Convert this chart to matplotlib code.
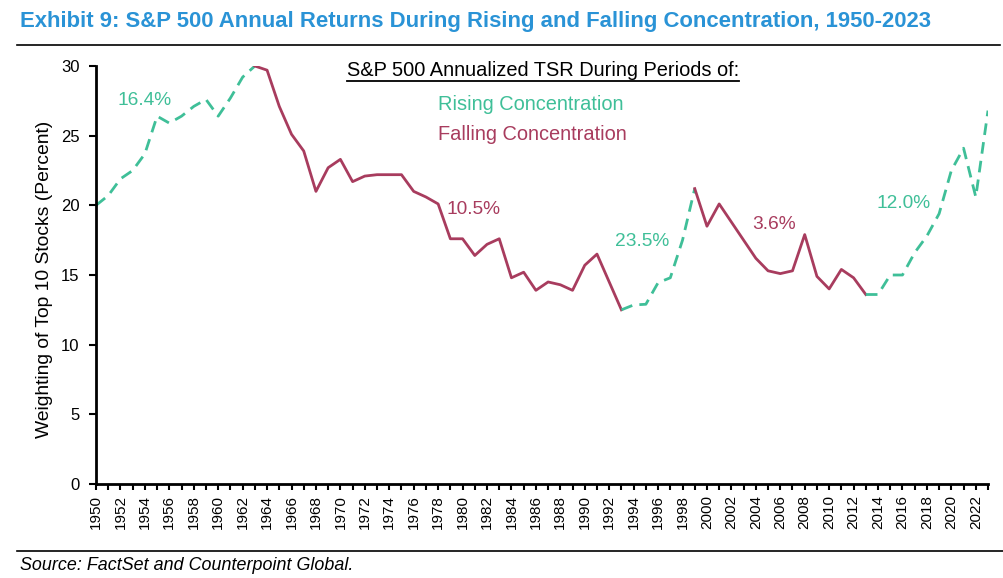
import matplotlib
matplotlib.use("Agg")
import matplotlib.pyplot as plt
from matplotlib.lines import Line2D
import numpy as np

plt.rcParams['font.family'] = ['Liberation Sans', 'DejaVu Sans']

years = list(range(1950, 2024))
weights = [
    20.0, 20.7, 21.9, 22.5, 23.7, 26.4, 25.9, 26.4, 27.1, 27.6,   # 1950-1959
    26.4, 27.7, 29.2, 30.0, 29.7, 27.1, 25.1, 23.9, 21.0, 22.7,   # 1960-1969
    23.3, 21.7, 22.1, 22.2, 22.2, 22.2, 21.0, 20.6, 20.1, 17.6,   # 1970-1979
    17.6, 16.4, 17.2, 17.6, 14.8, 15.2, 13.9, 14.5, 14.3, 13.9,   # 1980-1989
    15.7, 16.5, 14.5, 12.5, 12.85, 12.9, 14.45, 14.8, 17.5, 21.2, # 1990-1999
    18.5, 20.1, 18.8, 17.5, 16.2, 15.3, 15.1, 15.3, 17.9, 14.9,   # 2000-2009
    14.0, 15.4, 14.8, 13.6, 13.6, 15.0, 15.0, 16.6, 17.8, 19.4,   # 2010-2019
    22.5, 24.1, 20.6, 26.8,                                       # 2020-2023
]
# periods: (start year, end year, kind, annualized TSR label)
periods = [
    (1950, 1963, "rising", "16.4%"),
    (1963, 1993, "falling", "10.5%"),
    (1993, 1999, "rising", "23.5%"),
    (1999, 2013, "falling", "3.6%"),
    (2013, 2023, "rising", "12.0%"),
]
label_pos = [(1954.0, 27.5), (1980.9, 19.7), (1994.7, 17.4), (2005.5, 18.6), (2016.1, 20.15)]

GREEN = "#3fbf98"
RED = "#a83c5e"
BLUE = "#2a93d6"

W, H = 1004, 578
fig = plt.figure(figsize=(W / 100, H / 100), dpi=100)
ax = fig.add_axes([96 / W, 1 - 484 / H, (988 - 96) / W, (484 - 66) / H])

yr = np.array(years)
wt = np.array(weights)
for (s, e, kind, lab), (lx, ly) in zip(periods, label_pos):
    m = (yr >= s) & (yr <= e)
    if kind == "rising":
        ax.plot(yr[m], wt[m], color=GREEN, lw=2.0, ls=(0, (4.2, 2.6)), dash_capstyle='butt')
        c = GREEN
    else:
        ax.plot(yr[m], wt[m], color=RED, lw=2.0)
        c = RED
    ax.text(lx, ly, lab, color=c, fontsize=13.8, ha='center', va='center')

ax.set_xlim(1950, 2023)
ax.set_ylim(0, 30)
ax.set_yticks(range(0, 31, 5))
ax.set_xticks(years)
ax.set_xticklabels([str(y) if (y - 1950) % 2 == 0 else "" for y in years], rotation=90)
for s in ['top', 'right']:
    ax.spines[s].set_visible(False)
for s in ['left', 'bottom']:
    ax.spines[s].set_linewidth(2.0)
ax.tick_params(axis='y', direction='out', length=5, width=1.5, labelsize=12, pad=7)
ax.tick_params(axis='x', direction='out', length=4, width=1.5, labelsize=11, pad=4)
ax.set_ylabel("Weighting of Top 10 Stocks (Percent)", fontsize=13.9)
ax.yaxis.set_label_coords((53 - 96) / (988 - 96), (484 - 279) / (484 - 66))

# Title and rules
fig.text(20 / W, 1 - 22 / H, "Exhibit 9: S&P 500 Annual Returns During Rising and Falling Concentration, 1950-2023",
         color=BLUE, fontsize=15.9, fontweight='bold', ha='left', va='center')
fig.add_artist(Line2D([17 / W, 1000 / W], [1 - 45 / H, 1 - 45 / H], color='black', lw=1.2))
fig.add_artist(Line2D([17 / W, 1004 / W], [1 - 551 / H, 1 - 551 / H], color='black', lw=1.2))
fig.text(20 / W, 1 - 565 / H, "Source: FactSet and Counterpoint Global.", fontsize=12.9, style='italic',
         ha='left', va='center')

# Legend-like text block
hdr = fig.text(543 / W, 1 - 70 / H, "S&P 500 Annualized TSR During Periods of:", fontsize=14.4,
               ha='center', va='center')
fig.text(438 / W, 1 - 105 / H, "Rising Concentration", color=GREEN, fontsize=14.4, ha='left', va='center')
fig.text(438 / W, 1 - 135 / H, "Falling Concentration", color=RED, fontsize=14.4, ha='left', va='center')

fig.canvas.draw()
bb = hdr.get_window_extent(renderer=fig.canvas.get_renderer())
uy = (bb.y0 - 1) / H
fig.add_artist(Line2D([bb.x0 / W, bb.x1 / W], [uy, uy], color='black', lw=1.3))

fig.savefig("out.png", dpi=100)
